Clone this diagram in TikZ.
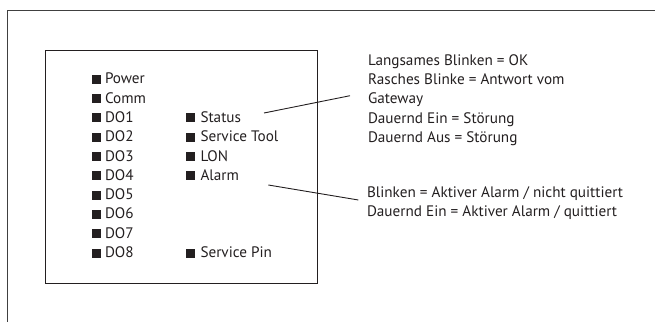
\documentclass[tikz,border=0pt]{standalone}
\usepackage{fontspec}
\setmainfont{PT Sans}
\definecolor{ink}{HTML}{231F20}
\begin{document}
\begin{tikzpicture}[x=1pt,y=-1pt,
  txt/.style={inner sep=0pt, outer sep=0pt, text=ink, font=\fontsize{15.2}{19.2}\selectfont},
  sq/.style={fill=ink, draw=none, minimum width=9.5pt, minimum height=9pt, inner sep=0pt},
  frame/.style={draw=black!75, line width=0.9pt},
  box/.style={draw=ink, line width=0.9pt},
  conn/.style={draw=ink, line width=0.9pt}]
\useasboundingbox (0,0) rectangle (655,322);
% outer frame
\coordinate (ftl) at (7,10);
\coordinate (ftr) at (655,10);
\coordinate (fbl) at (7,322);
\draw[frame] (ftr) -- (ftl) -- (fbl);
% inner box
\node[box, minimum width=271.5pt, minimum height=233pt, inner sep=0pt, anchor=north west] (panel) at (45,50) {};
% first column
\foreach \lab [count=\k from 0] in {Power,Comm,DO1,DO2,DO3,DO4,DO5,DO6,DO7,DO8}{
  \node[sq] (sqa\k) at (96.5,{83.8+19.3*\k-4.5}) {};
  \node[txt, anchor=base west] (la\k) at (105,{83.8+19.3*\k}) {\lab};
}
% second column
\foreach \lab/\k in {Status/2,Service Tool/3,LON/4,Alarm/5,Service Pin/9}{
  \node[sq] (sqb\k) at (190.5,{83.8+19.3*\k-4.5}) {};
  \node[txt, anchor=base west] (lb\k) at (200.5,{83.8+19.3*\k}) {\lab};
}
% right text block 1
\node[txt, anchor=base west] (r1) at (368,65.5) {Langsames Blinken = OK};
\node[txt, anchor=base west] (r2) at (368,84.7) {Rasches Blinke = Antwort vom};
\node[txt, anchor=base west] (r3) at (368,103.9) {Gateway};
\node[txt, anchor=base west] (r4) at (368,123.1) {Dauernd Ein = Störung};
\node[txt, anchor=base west] (r5) at (368,142.3) {Dauernd Aus = Störung};
% right text block 2
\node[txt, anchor=base west] (s1) at (367,197.5) {Blinken = Aktiver Alarm / nicht quittiert};
\node[txt, anchor=base west] (s2) at (367,216.7) {Dauernd Ein = Aktiver Alarm / quittiert};
% connectors
\coordinate (c1a) at (264,113);
\coordinate (c1b) at (350,95.7);
\coordinate (c2a) at (268.3,185);
\coordinate (c2b) at (358.3,200);
\draw[conn] (c1a) -- (c1b);
\draw[conn] (c2a) -- (c2b);
\end{tikzpicture}
\end{document}
